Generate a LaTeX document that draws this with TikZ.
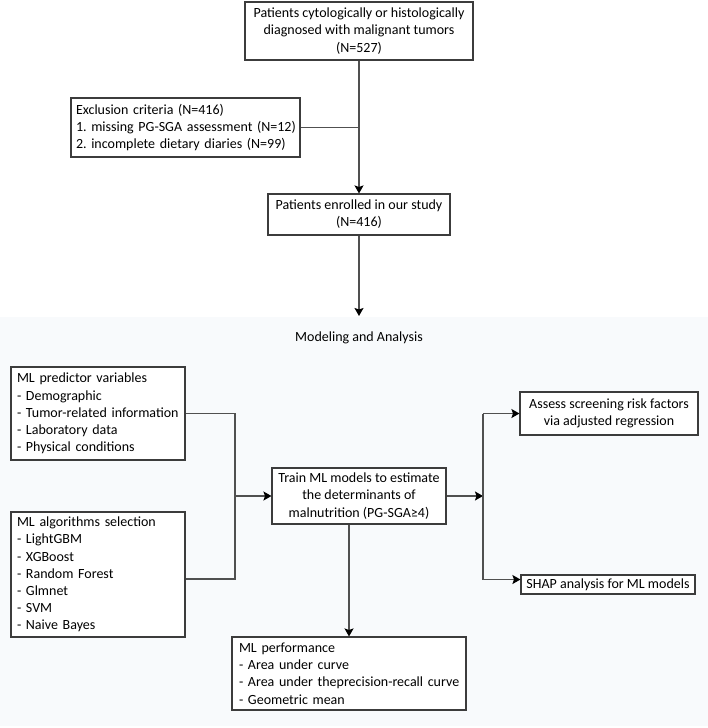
\documentclass[tikz,border=0pt]{standalone}
\usepackage{fontspec}
\setmainfont{Carlito}
\usetikzlibrary{arrows.meta,calc}
\definecolor{bgc}{HTML}{F8FAFC}
\definecolor{linec}{HTML}{505050}
\definecolor{boxc}{HTML}{3C3C3C}
\begin{document}
\begin{tikzpicture}[x=1pt,y=-1pt,
  txt/.style={font=\fontsize{14}{17.2}\selectfont},
  box/.style={txt, draw=boxc, line width=1.1pt, fill=white, inner ysep=0pt,
    execute at begin node={\frenchspacing\hyphenpenalty=10000\exhyphenpenalty=10000}},
  cbox/.style={box, align=center, inner xsep=2pt},
  lbox/.style={box, align=left},
  conn/.style={draw=linec, line width=1.2pt},
  arr/.style={conn, -{Stealth[length=8pt,width=9pt,inset=1.5pt,color=black]}}
]
\useasboundingbox (0,0) rectangle (708,728);
\fill[bgc] (0,317) rectangle (708,726);

% top part
\node[cbox, minimum width=228pt, minimum height=58pt] (top) at (359,31)
  {Patients cytologically or histologically\\diagnosed with malignant tumors\\(N=527)};
\node[lbox, inner xsep=5pt, text width=219pt, minimum height=59pt] (excl) at (185.5,127.5)
  {\mbox{Exclusion criteria (N=416)}\\\mbox{1. missing PG-SGA assessment (N=12)}\\\mbox{2. incomplete dietary diaries (N=99)}};
\node[cbox, minimum width=182pt, minimum height=41pt] (enr) at (359,214.5)
  {Patients enrolled in our study\\(N=416)};
\coordinate (mtop) at (359,316);

\draw[arr] (top.south) -- (enr.north);
\draw[conn] (excl.east) -- (excl.east -| top.south);
\draw[arr] (enr.south) -- (mtop);

% modeling part
\node[txt] (title) at (359,338) {Modeling and Analysis};

\node[lbox, inner xsep=6pt, text width=162pt, minimum height=93pt] (pred) at (98,413.5)
  {\mbox{ML predictor variables}\\\mbox{- Demographic}\\\mbox{- Tumor-related information}\\\mbox{- Laboratory data}\\\mbox{- Physical conditions}};
\node[lbox, inner xsep=6pt, text width=162pt, minimum height=125pt] (alg) at (98,574.5)
  {\mbox{ML algorithms selection}\\\mbox{- LightGBM}\\\mbox{- XGBoost}\\\mbox{- Random Forest}\\\mbox{- Glmnet}\\\mbox{- SVM}\\\mbox{- Naive Bayes}};
\node[cbox, minimum width=174pt, minimum height=56pt] (train) at (359,496)
  {Train ML models to estimate\\the determinants of\\malnutrition (PG-SGA≥4)};
\node[cbox, minimum width=178pt, minimum height=43pt] (assess) at (609,413.5)
  {Assess screening risk factors\\via adjusted regression};
\node[cbox, minimum width=174pt, minimum height=19pt] (shap) at (608,584.5)
  {SHAP analysis for ML models};
\node[lbox, inner xsep=7pt, text width=220pt, minimum height=73pt] (perf) at (349,673.5)
  {\mbox{ML performance}\\\mbox{- Area under curve}\\\mbox{- Area under theprecision-recall curve}\\\mbox{- Geometric mean}};

\coordinate (jL) at (235,496);
\coordinate (jR) at (483,496);
\coordinate (jS) at ([yshift=5pt]shap.west);

\draw[conn] (pred.east) -| (jL);
\draw[conn] ([yshift=-4.5pt]alg.east) -| (jL);
\draw[arr] (jL) -- (train.west);
\draw[arr] (train.east) -- (jR);
\draw[conn] (jR |- assess.west) -- (jR |- jS);
\draw[arr] (jR |- assess.west) -- (assess.west);
\draw[arr] (jR |- jS) -- (jS);
\draw[arr] (train.south -| perf.north) -- (perf.north);
\end{tikzpicture}
\end{document}
